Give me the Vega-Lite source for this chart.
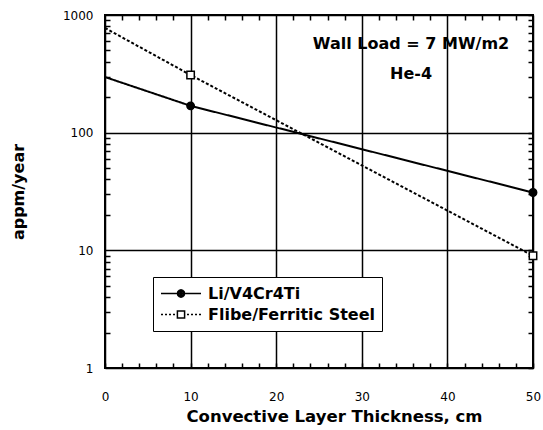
{
  "$schema": "https://vega.github.io/schema/vega-lite/v6.json",
  "width": 428,
  "height": 353,
  "autosize": {"type": "none"},
  "padding": {"left": 105, "top": 15, "right": 10, "bottom": 62},
  "background": "white",
  "config": {
    "font": "DejaVu Sans",
    "view": {"stroke": "black", "strokeWidth": 2},
    "axis": {"domain": false, "ticks": false, "tickSize": 0, "labelColor": "black", "titleColor": "black", "gridColor": "black", "labelFont": "DejaVu Sans", "titleFont": "DejaVu Sans"}
  },
  "data": {
    "values": [
      {"series": "Li/V4Cr4Ti", "thickness": 0, "rate": 297},
      {"series": "Li/V4Cr4Ti", "thickness": 10, "rate": 169},
      {"series": "Li/V4Cr4Ti", "thickness": 50, "rate": 31},
      {"series": "Flibe/Ferritic Steel", "thickness": 0, "rate": 776},
      {"series": "Flibe/Ferritic Steel", "thickness": 10, "rate": 309},
      {"series": "Flibe/Ferritic Steel", "thickness": 50, "rate": 9}
    ]
  },
  "resolve": {"axis": {"x": "independent", "y": "independent"}, "scale": {"shape": "independent"}},
  "layer": [
    {
      "mark": {"type": "line", "color": "black", "strokeWidth": 2},
      "encoding": {
        "x": {
          "field": "thickness", "type": "quantitative",
          "scale": {"domain": [0, 50], "nice": false, "zero": false},
          "axis": {
            "orient": "bottom",
            "title": "Convective Layer Thickness, cm",
            "tickCount": 25,
            "labelExpr": "datum.value % 10 == 0 ? datum.label : ''",
            "labelOverlap": false,
            "labelFlush": false,
            "grid": true,
            "gridDash": {"condition": {"test": "datum.value % 10 == 0", "value": [1, 0]}, "value": [5, 1000]},
            "gridWidth": 1.5,
            "labelFontSize": 12,
            "labelPadding": 23,
            "titleFontSize": 16.5,
            "titleFontWeight": "bold",
            "titlePadding": 6,
            "titleX": 229
          }
        },
        "y": {
          "field": "rate", "type": "quantitative",
          "scale": {"type": "log", "domain": [1, 1000], "nice": false},
          "axis": {
            "orient": "left",
            "title": "appm/year",
            "tickCount": 30,
            "labelExpr": "(datum.value == 1 || datum.value == 10 || datum.value == 100 || datum.value == 1000) ? format(datum.value, 'd') : ''",
            "labelOverlap": false,
            "labelFlush": false,
            "grid": true,
            "gridDash": {"condition": {"test": "datum.value == 1 || datum.value == 10 || datum.value == 100 || datum.value == 1000", "value": [1, 0]}, "value": [5, 1000]},
            "gridWidth": 1.5,
            "labelFontSize": 12,
            "labelPadding": 12,
            "titleFontSize": 16,
            "titleFontWeight": "bold",
            "titlePadding": 36
          }
        },
        "strokeDash": {
          "field": "series", "type": "nominal",
          "scale": {"domain": ["Li/V4Cr4Ti", "Flibe/Ferritic Steel"], "range": [[1, 0], [3, 2]]},
          "legend": null
        }
      }
    },
    {
      "transform": [{"filter": "datum.thickness > 0"}],
      "mark": {"type": "point", "stroke": "black", "strokeWidth": 1.5, "opacity": 1, "size": 55},
      "encoding": {
        "x": {
          "field": "thickness", "type": "quantitative",
          "axis": {
            "orient": "top", "title": null, "labels": false, "grid": true,
            "tickCount": 25,
            "gridDash": [5, 1000], "gridWidth": 1.5
          }
        },
        "y": {
          "field": "rate", "type": "quantitative",
          "axis": {
            "orient": "right", "title": null, "labels": false, "grid": true,
            "tickCount": 30,
            "gridDash": [5, 1000], "gridWidth": 1.5
          }
        },
        "shape": {"field": "series", "type": "nominal", "scale": {"domain": ["Li/V4Cr4Ti", "Flibe/Ferritic Steel"], "range": ["circle", "square"]}, "legend": null},
        "fill": {"field": "series", "type": "nominal", "scale": {"domain": ["Li/V4Cr4Ti", "Flibe/Ferritic Steel"], "range": ["black", "white"]}, "legend": null}
      }
    },
    {
      "transform": [{"filter": "datum.thickness < 0"}],
      "mark": {"type": "point", "stroke": "black", "strokeWidth": 1.5, "opacity": 1},
      "encoding": {
        "shape": {
          "field": "series", "type": "nominal",
          "scale": {"domain": ["Li/V4Cr4Ti", "Flibe/Ferritic Steel"], "range": ["M-1,0L1,0M0.18,0L0.156,0.09L0.09,0.156L0,0.18L-0.09,0.156L-0.156,0.09L-0.18,0L-0.156,-0.09L-0.09,-0.156L0,-0.18L0.09,-0.156L0.156,-0.09ZM0.12,0L0.085,0.085L0,0.12L-0.085,0.085L-0.12,0L-0.085,-0.085L0,-0.12L0.085,-0.085ZM0.05,0L0,0.05L-0.05,0L0,-0.05Z", "M-1,0L-0.9,0M-0.8,0L-0.7,0M-0.6,0L-0.5,0M-0.4,0L-0.3,0M0.3,0L0.4,0M0.5,0L0.6,0M0.7,0L0.8,0M0.9,0L1,0M-0.18,-0.18L0.18,-0.18L0.18,0.18L-0.18,0.18Z"]},
          "legend": {
            "title": null, "orient": "none", "legendX": 48, "legendY": 262,
            "strokeColor": "black", "fillColor": "white", "padding": 7,
            "labelFontSize": 16, "labelFontWeight": "bold", "labelColor": "black", "labelFont": "DejaVu Sans", "labelLimit": 400,
            "symbolSize": 1600, "symbolStrokeWidth": 1.5, "symbolStrokeColor": "black", "symbolFillColor": "white", "symbolOpacity": 1,
            "clipHeight": 19, "rowPadding": 2, "labelOffset": 6
          }
        }
      }
    },
    {
      "data": {"values": [{"note": "Wall Load = 7 MW/m2"}]},
      "mark": {"type": "text", "font": "DejaVu Sans", "fontSize": 16, "fontWeight": "bold", "lineHeight": 30, "baseline": "middle", "align": "center", "color": "black"},
      "encoding": {
        "x": {"datum": 35.75, "type": "quantitative", "axis": null},
        "y": {"datum": 567, "type": "quantitative", "axis": null},
        "text": {"value": ["Wall Load = 7 MW/m2", "He-4"]}
      }
    }
  ]
}
